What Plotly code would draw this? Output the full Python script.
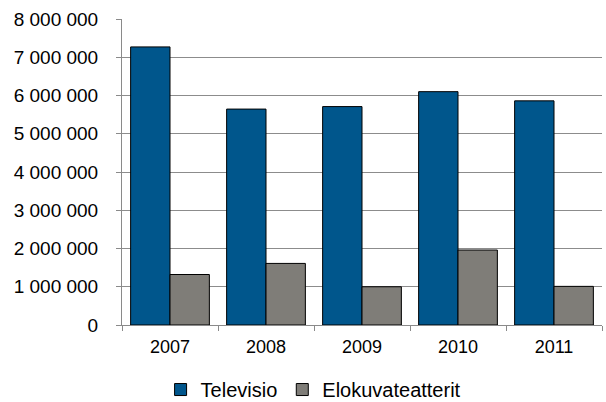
import plotly.graph_objects as go

years = ["2007", "2008", "2009", "2010", "2011"]
televisio = [7270000, 5645000, 5710000, 6100000, 5860000]
elokuvateatterit = [1320000, 1610000, 1000000, 1960000, 1010000]
y_ticks = [0, 1000000, 2000000, 3000000, 4000000, 5000000, 6000000, 7000000, 8000000]

family = "Liberation Sans, Arial, sans-serif"

fig = go.Figure()
fig.add_trace(
    go.Bar(
        x=years,
        y=televisio,
        name="Televisio",
        marker={"color": "#00568C", "line": {"color": "#000000", "width": 1}},
    )
)
fig.add_trace(
    go.Bar(
        x=years,
        y=elokuvateatterit,
        name="Elokuvateatterit",
        marker={"color": "#7F7D78", "line": {"color": "#000000", "width": 1}},
    )
)

fig.update_layout(
    width=606,
    height=402,
    barmode="group",
    bargap=0.18,
    bargroupgap=0,
    separators=", ",
    paper_bgcolor="#ffffff",
    plot_bgcolor="#ffffff",
    font={"family": family, "size": 18, "color": "#000000"},
    margin={"l": 122, "r": 4, "t": 19, "b": 77},
    legend={
        "orientation": "h",
        "xref": "container",
        "yref": "container",
        "x": 0.265,
        "xanchor": "left",
        "y": 0.031,
        "yanchor": "middle",
        "font": {"family": family, "size": 20, "color": "#000000"},
        "itemwidth": 30,
    },
)
fig.update_xaxes(
    showline=True,
    linecolor="#8a8a8a",
    ticks="outside",
    tickson="boundaries",
    ticklen=5,
    tickcolor="#8a8a8a",
    showgrid=False,
    tickfont={"size": 18},
    ticklabelstandoff=5,
)
fig.update_yaxes(
    range=[0, 8000000],
    tickvals=y_ticks,
    tickformat=",d",
    showline=True,
    linecolor="#8a8a8a",
    ticks="outside",
    ticklen=5,
    tickcolor="#8a8a8a",
    gridcolor="#8c8c8c",
    gridwidth=1,
    zeroline=False,
    ticklabelstandoff=14,
    tickfont={"size": 19},
)

# page body has a default 8px margin; drop it so the figure sits at the window origin
fig.write_html(
    "out.html",
    config={"displayModeBar": False},
    post_script="document.body.style.margin='0';",
)
